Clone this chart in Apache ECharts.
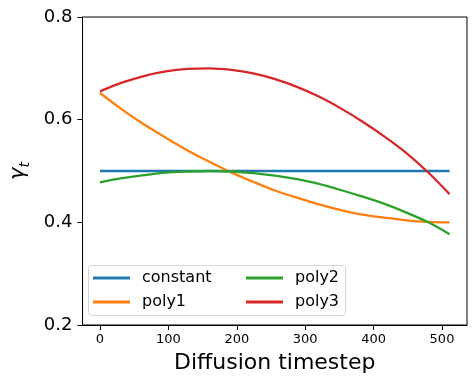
<!DOCTYPE html>
<html>
<head>
<meta charset="utf-8">
<script src="https://cdn.jsdelivr.net/npm/echarts@6/dist/echarts.min.js"></script>
<style>html,body{margin:0;padding:0;background:#fff}#c{width:476px;height:387px}</style>
</head>
<body>
<div id="c"></div>
<script>
var timesteps = [0, 32, 64, 96, 128, 160, 192, 224, 256, 288, 320, 352, 384, 416, 448, 480, 511];
var constantVals = [0.5, 0.5, 0.5, 0.5, 0.5, 0.5, 0.5, 0.5, 0.5, 0.5, 0.5, 0.5, 0.5, 0.5, 0.5, 0.5, 0.5];
var poly1Vals = [0.652, 0.620, 0.591, 0.565, 0.540, 0.518, 0.497, 0.479, 0.462, 0.448, 0.435, 0.424, 0.415, 0.409, 0.404, 0.401, 0.400];
var poly2Vals = [0.478, 0.486, 0.492, 0.497, 0.499, 0.500, 0.499, 0.496, 0.491, 0.484, 0.475, 0.463, 0.450, 0.436, 0.419, 0.400, 0.377];
var poly3Vals = [0.655, 0.672, 0.685, 0.694, 0.699, 0.700, 0.697, 0.690, 0.679, 0.664, 0.645, 0.622, 0.596, 0.567, 0.535, 0.497, 0.455];
var seriesNames = ['constant', 'poly1', 'poly2', 'poly3'];
var xTicks = [0, 100, 200, 300, 400, 500];
var yTicks = [0.2, 0.4, 0.6, 0.8];
var xLabel = 'Diffusion timestep';

var colors = ['#1f77b4', '#ff7f0e', '#2ca02c', '#d62728'];
var allVals = [constantVals, poly1Vals, poly2Vals, poly3Vals];
var xSpan = timesteps[timesteps.length - 1] - timesteps[0];
var FONT = 'DejaVu Sans';

var chart = echarts.init(document.getElementById('c'), null, {renderer: 'canvas'});
var series = seriesNames.map(function (n, i) {
  return {
    name: n, type: 'line', showSymbol: false, smooth: 0.3,
    data: timesteps.map(function (t, j) { return [t, allVals[i][j]]; }),
    lineStyle: {color: colors[i], width: 2.3},
    itemStyle: {color: colors[i]},
    z: 2 + i
  };
});

var legendCommon = {
  orient: 'vertical', icon: 'rect', itemWidth: 37, itemHeight: 3, itemGap: 8,
  textStyle: {fontFamily: FONT, fontSize: 16, color: '#000', lineHeight: 16, padding: [0, 0, 0, 7]},
  padding: 0, selectedMode: false
};

chart.setOption({
  animation: false,
  color: colors,
  grid: {left: 79, right: 9, top: 17, bottom: 62, show: true, borderColor: '#000', borderWidth: 1, backgroundColor: 'transparent'},
  xAxis: {
    type: 'value', min: timesteps[0] - xSpan * 0.05, max: timesteps[timesteps.length - 1] + xSpan * 0.05,
    name: xLabel, nameLocation: 'middle', nameGap: 27,
    nameTextStyle: {fontFamily: FONT, fontSize: 22, color: '#000'},
    axisLine: {show: true, onZero: false, lineStyle: {color: '#000', width: 1}},
    axisTick: {show: true, length: 5, lineStyle: {color: '#000'}, customValues: xTicks},
    axisLabel: {fontFamily: FONT, fontSize: 13, color: '#000', margin: 8, customValues: xTicks},
    splitLine: {show: false}
  },
  yAxis: {
    type: 'value', min: yTicks[0], max: yTicks[yTicks.length - 1],
    name: '{g|γ}{s|t}', nameLocation: 'middle', nameGap: 50, nameRotate: 90,
    nameTextStyle: {
      color: '#000',
      rich: {
        g: {fontFamily: FONT, fontStyle: 'italic', fontSize: 21, lineHeight: 28, color: '#000', verticalAlign: 'middle'},
        s: {fontFamily: FONT, fontStyle: 'italic', fontSize: 14, lineHeight: 14, color: '#000', verticalAlign: 'bottom'}
      }
    },
    axisLine: {show: true, onZero: false, lineStyle: {color: '#000', width: 1}},
    axisTick: {show: true, length: 5, lineStyle: {color: '#000'}, customValues: yTicks},
    axisLabel: {fontFamily: FONT, fontSize: 18, color: '#000', margin: 10, customValues: yTicks,
      formatter: function (v) { return v.toFixed(1); }},
    splitLine: {show: false}
  },
  graphic: [{
    type: 'rect', z: 50,
    shape: {x: 88.5, y: 265.5, width: 257, height: 50, r: 3},
    style: {fill: 'rgba(255,255,255,0.8)', stroke: '#d4d4d4', lineWidth: 1}
  }],
  legend: [
    Object.assign({}, legendCommon, {left: 93, top: 270, data: [seriesNames[0], seriesNames[1]], z: 60}),
    Object.assign({}, legendCommon, {left: 246, top: 270, data: [seriesNames[2], seriesNames[3]], z: 60})
  ],
  series: series
});
</script>
</body>
</html>
